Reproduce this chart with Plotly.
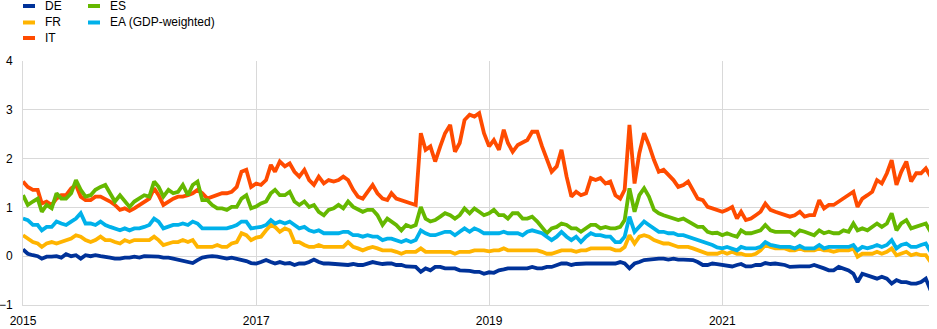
import pandas as pd
import plotly.graph_objects as go

# semi-monthly observation dates (1st and 16th of each month), Jan 2015 - Oct 2022
dates = []
for y in range(2015, 2023):
    for mth in range(1, 13):
        for d in (1, 16):
            dates.append(f"{y}-{mth:02d}-{d:02d}")
dates = dates[:188]

DE = [0.14,0.05,0.02,0.0,-0.05,-0.01,-0.01,0.0,-0.03,0.04,0.0,0.02,-0.05,0.02,0.0,0.02,0.0,-0.01,-0.03,-0.05,-0.05,-0.03,-0.03,-0.01,
      -0.03,0.0,0.0,-0.01,-0.01,-0.03,-0.03,-0.05,-0.07,-0.08,-0.10,-0.14,-0.08,-0.03,-0.01,0.0,-0.01,-0.03,-0.05,-0.03,-0.05,-0.07,-0.10,-0.14,
      -0.15,-0.12,-0.08,-0.12,-0.15,-0.12,-0.15,-0.14,-0.18,-0.15,-0.15,-0.12,-0.07,-0.12,-0.15,-0.15,-0.16,-0.16,-0.18,-0.18,-0.16,-0.18,-0.18,-0.15,
      -0.12,-0.14,-0.16,-0.15,-0.15,-0.18,-0.18,-0.21,-0.22,-0.22,-0.32,-0.25,-0.29,-0.22,-0.22,-0.25,-0.25,-0.25,-0.29,-0.29,-0.30,-0.32,-0.32,-0.36,
      -0.33,-0.34,-0.29,-0.27,-0.25,-0.25,-0.25,-0.25,-0.25,-0.22,-0.25,-0.25,-0.22,-0.22,-0.18,-0.15,-0.15,-0.18,-0.16,-0.15,-0.15,-0.15,-0.15,-0.15,
      -0.15,-0.15,-0.15,-0.12,-0.15,-0.25,-0.15,-0.12,-0.08,-0.07,-0.05,-0.05,-0.05,-0.07,-0.05,-0.07,-0.07,-0.07,-0.08,-0.12,-0.18,-0.18,-0.15,-0.16,
      -0.18,-0.18,-0.21,-0.18,-0.16,-0.21,-0.21,-0.18,-0.18,-0.14,-0.16,-0.15,-0.16,-0.18,-0.22,-0.21,-0.21,-0.21,-0.21,-0.18,-0.21,-0.25,-0.29,-0.29,
      -0.22,-0.25,-0.29,-0.36,-0.53,-0.36,-0.39,-0.42,-0.46,-0.42,-0.46,-0.56,-0.49,-0.53,-0.53,-0.56,-0.56,-0.53,-0.46,-0.70]

FR = [0.43,0.36,0.29,0.26,0.19,0.26,0.29,0.26,0.29,0.33,0.36,0.43,0.40,0.33,0.29,0.33,0.40,0.33,0.33,0.29,0.26,0.33,0.29,0.33,
      0.33,0.33,0.33,0.40,0.33,0.23,0.26,0.29,0.29,0.33,0.29,0.33,0.19,0.19,0.19,0.19,0.23,0.19,0.19,0.26,0.29,0.47,0.43,0.33,
      0.38,0.40,0.53,0.64,0.60,0.50,0.57,0.53,0.29,0.29,0.23,0.19,0.19,0.23,0.19,0.19,0.19,0.19,0.19,0.29,0.19,0.16,0.12,0.16,
      0.19,0.16,0.12,0.12,0.12,0.09,0.05,0.09,0.09,0.09,0.16,0.09,0.09,0.09,0.09,0.09,0.09,0.05,0.09,0.09,0.09,0.12,0.12,0.12,
      0.10,0.12,0.12,0.16,0.12,0.12,0.12,0.12,0.12,0.12,0.12,0.09,0.05,0.05,0.09,0.12,0.12,0.12,0.09,0.12,0.12,0.16,0.16,0.16,
      0.16,0.16,0.12,0.12,0.19,0.43,0.26,0.40,0.43,0.40,0.33,0.29,0.26,0.26,0.23,0.19,0.19,0.19,0.16,0.12,0.09,0.05,0.05,0.05,
      0.09,0.05,0.09,0.05,0.05,0.02,0.02,0.05,0.12,0.23,0.19,0.16,0.16,0.16,0.12,0.12,0.16,0.12,0.12,0.12,0.16,0.12,0.12,0.09,
      0.12,0.12,0.12,0.16,-0.01,0.05,0.05,0.05,0.09,0.05,0.09,0.16,0.02,0.05,0.09,0.02,0.05,0.02,0.02,-0.12]

IT = [1.53,1.42,1.36,1.36,1.08,1.12,1.05,1.18,1.25,1.25,1.39,1.46,1.22,1.15,1.15,1.22,1.22,1.18,1.12,1.05,0.95,0.98,0.93,0.98,
      1.05,1.12,1.18,1.39,1.25,1.05,1.12,1.18,1.22,1.22,1.25,1.29,1.36,1.29,1.18,1.22,1.25,1.29,1.29,1.32,1.42,1.73,1.77,1.42,
      1.49,1.46,1.56,1.87,1.73,1.94,1.84,1.90,1.73,1.63,1.77,1.56,1.46,1.63,1.49,1.56,1.53,1.56,1.63,1.56,1.36,1.22,1.18,1.32,
      1.46,1.29,1.18,1.15,1.29,1.18,1.15,1.12,1.08,1.05,2.52,2.18,2.25,1.94,2.25,2.52,2.69,2.14,2.32,2.79,2.90,2.86,2.93,2.52,
      2.25,2.38,2.18,2.59,2.32,2.14,2.28,2.32,2.38,2.55,2.55,2.25,2.01,1.73,1.84,2.18,1.63,1.22,1.32,1.25,1.29,1.60,1.56,1.60,
      1.49,1.53,1.25,1.18,1.36,2.69,1.49,2.11,2.52,2.28,1.97,1.73,1.77,1.66,1.56,1.42,1.46,1.53,1.36,1.18,1.15,1.01,0.98,0.95,
      0.91,0.95,1.01,0.77,0.91,0.74,0.77,0.84,0.91,1.08,0.95,0.91,0.88,0.84,0.81,0.84,0.91,0.81,0.84,0.84,1.15,0.98,1.05,1.05,
      1.12,1.18,1.25,1.32,1.01,1.18,1.25,1.32,1.56,1.49,1.70,1.97,1.46,1.73,1.94,1.53,1.70,1.70,1.80,1.63]

ES = [1.25,1.05,1.12,1.18,0.91,1.05,0.98,1.29,1.18,1.18,1.29,1.56,1.36,1.22,1.25,1.36,1.42,1.46,1.29,1.12,1.25,1.12,1.01,1.12,
      1.18,1.25,1.22,1.53,1.42,1.22,1.36,1.29,1.32,1.46,1.25,1.46,1.53,1.15,1.15,1.05,0.98,0.98,0.95,1.01,1.01,1.18,1.25,0.98,
      1.02,1.08,1.12,1.29,1.36,1.25,1.25,1.32,1.12,1.05,1.12,1.01,1.05,0.91,0.84,0.95,0.98,1.05,0.98,1.12,1.01,0.95,0.91,0.95,
      0.95,0.84,0.64,0.77,0.71,0.64,0.53,0.64,0.60,0.64,1.01,0.77,0.71,0.74,0.81,0.88,0.84,0.77,0.84,0.98,0.88,0.98,0.91,0.84,
      0.88,0.95,0.84,0.84,0.77,0.88,0.88,0.77,0.77,0.81,0.71,0.60,0.47,0.57,0.60,0.67,0.64,0.57,0.57,0.50,0.57,0.64,0.64,0.57,
      0.60,0.57,0.57,0.60,0.74,1.39,0.91,1.25,1.39,1.22,0.95,0.88,0.84,0.81,0.77,0.74,0.77,0.71,0.67,0.60,0.60,0.50,0.47,0.48,
      0.43,0.47,0.43,0.40,0.53,0.47,0.47,0.50,0.53,0.64,0.53,0.50,0.50,0.50,0.50,0.43,0.53,0.50,0.47,0.43,0.53,0.47,0.50,0.47,
      0.47,0.53,0.50,0.67,0.53,0.57,0.53,0.60,0.67,0.60,0.67,0.88,0.53,0.67,0.74,0.57,0.60,0.64,0.67,0.50]

EA = [0.77,0.74,0.64,0.64,0.53,0.60,0.60,0.71,0.67,0.64,0.71,0.77,0.88,0.67,0.67,0.64,0.71,0.64,0.60,0.57,0.53,0.57,0.53,0.57,
      0.57,0.60,0.64,0.77,0.71,0.57,0.60,0.64,0.64,0.67,0.64,0.71,0.67,0.57,0.57,0.57,0.57,0.57,0.57,0.60,0.64,0.71,0.71,0.57,
      0.58,0.60,0.64,0.74,0.67,0.71,0.67,0.71,0.64,0.57,0.60,0.53,0.50,0.53,0.47,0.47,0.47,0.47,0.50,0.50,0.43,0.43,0.40,0.43,
      0.40,0.40,0.33,0.36,0.36,0.33,0.29,0.33,0.29,0.33,0.53,0.47,0.43,0.43,0.47,0.50,0.50,0.43,0.50,0.57,0.50,0.57,0.53,0.47,
      0.47,0.47,0.47,0.50,0.47,0.47,0.47,0.43,0.50,0.53,0.50,0.47,0.40,0.33,0.40,0.50,0.40,0.33,0.40,0.29,0.40,0.47,0.43,0.43,
      0.40,0.40,0.29,0.29,0.40,0.81,0.50,0.60,0.71,0.64,0.57,0.50,0.50,0.47,0.47,0.43,0.43,0.40,0.36,0.33,0.29,0.26,0.23,0.18,
      0.16,0.19,0.16,0.12,0.19,0.16,0.16,0.16,0.19,0.29,0.23,0.21,0.19,0.19,0.19,0.16,0.21,0.16,0.16,0.16,0.23,0.16,0.19,0.19,
      0.19,0.19,0.19,0.23,0.12,0.19,0.16,0.19,0.23,0.19,0.23,0.33,0.16,0.23,0.26,0.19,0.19,0.23,0.26,0.09]

series_names = ["DE", "FR", "IT", "ES", "EA (GDP-weighted)"]
series_values = [DE, FR, IT, ES, EA]
series_colors = ["#003299", "#FFB400", "#FF4B00", "#65B800", "#00B1EA"]

x_tickvals = ["2015-01-01", "2017-01-01", "2019-01-01", "2021-01-01"]
x_ticktext = ["2015", "2017", "2019", "2021"]
y_tickvals = [-1, 0, 1, 2, 3, 4]

for v in series_values:
    assert len(v) == len(dates), (len(v), len(dates))

W, H = 937, 329
L, R, T, B = 23, 8, 61, 24
FONT = "Liberation Sans, Arial, sans-serif"

fig = go.Figure()
for name, vals, col in zip(series_names, series_values, series_colors):
    fig.add_trace(go.Scatter(x=dates, y=vals, mode="lines", name=name,
                             line=dict(color=col, width=3.8), showlegend=False))

# manual two-column legend (column-major like the original)
def px_to_paper(xp, yp):
    return (xp - L) / (W - L - R), (H - B - yp) / (H - T - B)

legend_layout = [(0, 23, 6), (1, 23, 22.5), (2, 23, 38), (3, 88, 6), (4, 88, 22.5)]
shapes = []
annotations = []
for idx, xs, ys in legend_layout:
    x0, y0 = px_to_paper(xs, ys)
    x1, _ = px_to_paper(xs + 12, ys)
    shapes.append(dict(type="line", xref="paper", yref="paper", x0=x0, x1=x1, y0=y0, y1=y0,
                       line=dict(color=series_colors[idx], width=4)))
    tx, _ = px_to_paper(xs + 20, ys)
    annotations.append(dict(xref="paper", yref="paper", x=tx, y=y0, text=series_names[idx],
                            showarrow=False, xanchor="left", yanchor="middle",
                            font=dict(family=FONT, size=12, color="#000000")))

fig.update_layout(
    width=W, height=H,
    margin=dict(l=L, r=R, t=T, b=B, pad=0, autoexpand=False),
    paper_bgcolor="white", plot_bgcolor="white",
    font=dict(family=FONT, size=12, color="#000000"),
    shapes=shapes, annotations=annotations,
    showlegend=False,
)
fig.update_xaxes(
    type="date", range=[dates[0], "2022-10-11"],
    tickvals=x_tickvals, ticktext=x_ticktext,
    showgrid=True, gridcolor="#d9d9d9", gridwidth=1,
    showline=True, linecolor="#d9d9d9", linewidth=1,
    ticks="outside", ticklen=5, tickcolor="rgba(0,0,0,0)",
    zeroline=False, tickfont=dict(size=12), automargin=False,
)
fig.update_yaxes(
    range=[-1, 4], tickvals=y_tickvals,
    showgrid=True, gridcolor="#d9d9d9", gridwidth=1,
    showline=True, linecolor="#d9d9d9", linewidth=1,
    ticks="outside", ticklen=7, tickcolor="rgba(0,0,0,0)",
    zeroline=False, tickfont=dict(size=12), automargin=False,
)

fig.write_html("out.html")
